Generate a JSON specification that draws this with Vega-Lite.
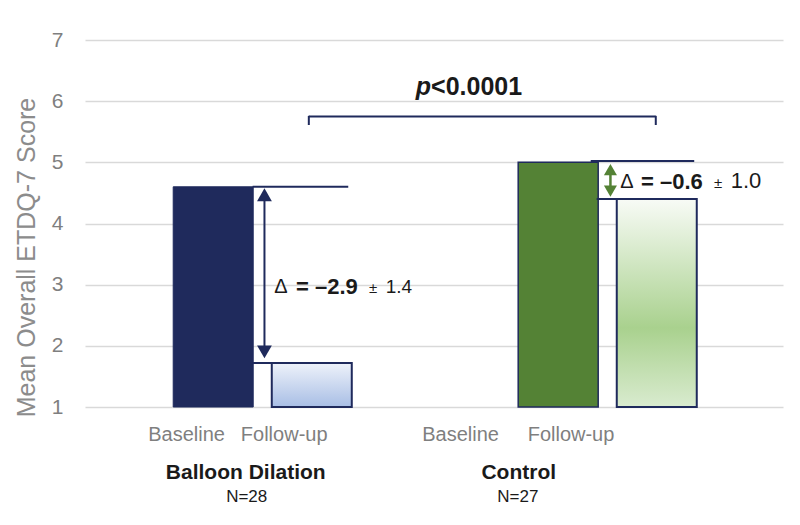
{
  "$schema": "https://vega.github.io/schema/vega-lite/v6.json",
  "width": 698,
  "height": 367,
  "autosize": {"type": "none"},
  "padding": {"left": 85, "top": 40, "right": 17, "bottom": 118},
  "background": "white",
  "config": {
    "view": {"stroke": null},
    "font": "Liberation Sans",
    "axisY": {"grid": true, "gridColor": "#d9d9d9", "gridWidth": 1.5, "domain": false, "ticks": false,
      "labelPadding": 22, "labelFontSize": 21, "labelColor": "#7f7f7f", "labelFont": "Liberation Sans",
      "titleFontSize": 25, "titleFontWeight": "normal", "titleColor": "#8c8c8c", "titleFont": "Liberation Sans",
      "titleAngle": 270, "titleAlign": "center", "titleBaseline": "middle", "titleX": -59, "titleY": 217}
  },
  "datasets": {
    "bars": [
      {"group": "Balloon Dilation", "period": "Baseline", "pos": 1, "score": 4.6},
      {"group": "Balloon Dilation", "period": "Follow-up", "pos": 2, "score": 1.72},
      {"group": "Control", "period": "Baseline", "pos": 4.5, "score": 5.0},
      {"group": "Control", "period": "Follow-up", "pos": 5.5, "score": 4.4}
    ],
    "navyRules": [
      {"x": 1.4, "x2": 2.37, "y": 4.6, "y2": 4.6},
      {"x": 1.4, "x2": 2.37, "y": 1.72, "y2": 1.72},
      {"x": 4.83, "x2": 5.88, "y": 5.02, "y2": 5.02},
      {"x": 4.89, "x2": 5.5, "y": 4.4, "y2": 4.4},
      {"x": 1.97, "x2": 5.49, "y": 5.75, "y2": 5.75},
      {"x": 1.97, "x2": 1.97, "y": 5.76, "y2": 5.61},
      {"x": 5.49, "x2": 5.49, "y": 5.76, "y2": 5.61},
      {"x": 1.52, "x2": 1.52, "y": 4.5, "y2": 1.85}
    ],
    "greenRules": [
      {"x": 5.03, "x2": 5.03, "y": 4.85, "y2": 4.55}
    ],
    "arrowHeads": [
      {"arm": "Balloon Dilation", "dir": "up", "x": 1.52, "y": 4.47},
      {"arm": "Balloon Dilation", "dir": "down", "x": 1.52, "y": 1.9},
      {"arm": "Control", "dir": "up", "x": 5.03, "y": 4.88},
      {"arm": "Control", "dir": "down", "x": 5.03, "y": 4.53}
    ],
    "periodLabels": [
      {"label": "Baseline", "x": 0.73, "y": 0.55},
      {"label": "Follow-up", "x": 1.72, "y": 0.55},
      {"label": "Baseline", "x": 3.51, "y": 0.55},
      {"label": "Follow-up", "x": 4.63, "y": 0.55}
    ],
    "groupLabels": [
      {"label": "Balloon Dilation", "x": 1.33, "y": -0.08},
      {"label": "Control", "x": 4.1, "y": -0.08}
    ],
    "nLabels": [
      {"label": "N=28", "x": 1.34, "y": -0.47},
      {"label": "N=27", "x": 4.09, "y": -0.47}
    ],
    "deltaSym": [
      {"label": "Δ", "x": 1.62, "y": 2.96},
      {"label": "Δ", "x": 5.13, "y": 4.68}
    ],
    "deltaVal": [
      {"label": "= –2.9", "x": 1.84, "y": 2.96},
      {"label": "= –0.6", "x": 5.34, "y": 4.68}
    ],
    "pm": [
      {"label": "±", "x": 2.58, "y": 2.95},
      {"label": "±", "x": 6.08, "y": 4.66}
    ],
    "sd1": [{"label": "1.4", "x": 2.75, "y": 2.96}],
    "sd2": [{"label": "1.0", "x": 6.25, "y": 4.7}],
    "pItalic": [{"label": "p", "x": 3.21, "y": 6.23}],
    "pValue": [{"label": "<0.0001", "x": 3.21, "y": 6.23}]
  },
  "layer": [
    {
      "data": {"name": "bars"},
      "transform": [{"filter": "datum.group == 'Balloon Dilation' && datum.period == 'Baseline'"}],
      "mark": {"type": "bar", "width": 80, "fill": "#1f2a5c", "stroke": "#1f2a5c", "strokeWidth": 1},
      "encoding": {
        "x": {"field": "pos", "type": "quantitative", "scale": {"domain": [-0.25, 6.73], "nice": false, "zero": false}, "axis": null},
        "y": {"field": "score", "type": "quantitative", "scale": {"domain": [1, 7], "nice": false, "zero": false},
          "axis": {"values": [1, 2, 3, 4, 5, 6, 7], "title": "Mean Overall ETDQ-7 Score"}},
        "y2": {"datum": 1}
      }
    },
    {
      "data": {"name": "bars"},
      "transform": [{"filter": "datum.group == 'Balloon Dilation' && datum.period == 'Follow-up'"}],
      "mark": {"type": "bar", "width": 80, "stroke": "#1f2a5c", "strokeWidth": 2,
        "fill": {"gradient": "linear", "x1": 0, "y1": 0, "x2": 0, "y2": 1, "stops": [{"offset": 0, "color": "#eef2fa"}, {"offset": 1, "color": "#a8bee5"}]}},
      "encoding": {
        "x": {"field": "pos", "type": "quantitative", "scale": {"domain": [-0.25, 6.73], "nice": false, "zero": false}, "axis": null},
        "y": {"field": "score", "type": "quantitative", "scale": {"domain": [1, 7], "nice": false, "zero": false},
          "axis": {"values": [1, 2, 3, 4, 5, 6, 7], "title": "Mean Overall ETDQ-7 Score"}},
        "y2": {"datum": 1}
      }
    },
    {
      "data": {"name": "bars"},
      "transform": [{"filter": "datum.group == 'Control' && datum.period == 'Baseline'"}],
      "mark": {"type": "bar", "width": 80, "fill": "#548235", "stroke": "#1f2a5c", "strokeWidth": 1.5},
      "encoding": {
        "x": {"field": "pos", "type": "quantitative", "scale": {"domain": [-0.25, 6.73], "nice": false, "zero": false}, "axis": null},
        "y": {"field": "score", "type": "quantitative", "scale": {"domain": [1, 7], "nice": false, "zero": false},
          "axis": {"values": [1, 2, 3, 4, 5, 6, 7], "title": "Mean Overall ETDQ-7 Score"}},
        "y2": {"datum": 1}
      }
    },
    {
      "data": {"name": "bars"},
      "transform": [{"filter": "datum.group == 'Control' && datum.period == 'Follow-up'"}],
      "mark": {"type": "bar", "width": 80, "stroke": "#1f2a5c", "strokeWidth": 2,
        "fill": {"gradient": "linear", "x1": 0, "y1": 0, "x2": 0, "y2": 1, "stops": [{"offset": 0, "color": "#f8fbf6"}, {"offset": 0.62, "color": "#a9d18e"}, {"offset": 1, "color": "#d9ebcf"}]}},
      "encoding": {
        "x": {"field": "pos", "type": "quantitative", "scale": {"domain": [-0.25, 6.73], "nice": false, "zero": false}, "axis": null},
        "y": {"field": "score", "type": "quantitative", "scale": {"domain": [1, 7], "nice": false, "zero": false},
          "axis": {"values": [1, 2, 3, 4, 5, 6, 7], "title": "Mean Overall ETDQ-7 Score"}},
        "y2": {"datum": 1}
      }
    },
    {
      "data": {"name": "navyRules"},
      "mark": {"type": "rule", "color": "#1f2a5c", "strokeWidth": 2},
      "encoding": {
        "x": {"field": "x", "type": "quantitative", "scale": {"domain": [-0.25, 6.73], "nice": false, "zero": false}, "axis": null},
        "x2": {"field": "x2"},
        "y": {"field": "y", "type": "quantitative", "scale": {"domain": [1, 7], "nice": false, "zero": false},
          "axis": {"values": [1, 2, 3, 4, 5, 6, 7], "title": "Mean Overall ETDQ-7 Score"}},
        "y2": {"field": "y2"}
      }
    },
    {
      "data": {"name": "greenRules"},
      "mark": {"type": "rule", "color": "#548235", "strokeWidth": 2.5},
      "encoding": {
        "x": {"field": "x", "type": "quantitative", "scale": {"domain": [-0.25, 6.73], "nice": false, "zero": false}, "axis": null},
        "x2": {"field": "x2"},
        "y": {"field": "y", "type": "quantitative", "scale": {"domain": [1, 7], "nice": false, "zero": false},
          "axis": {"values": [1, 2, 3, 4, 5, 6, 7], "title": "Mean Overall ETDQ-7 Score"}},
        "y2": {"field": "y2"}
      }
    },
    {
      "data": {"name": "arrowHeads"},
      "mark": {"type": "point", "filled": true, "opacity": 1, "strokeWidth": 0},
      "encoding": {
        "x": {"field": "x", "type": "quantitative", "scale": {"domain": [-0.25, 6.73], "nice": false, "zero": false}, "axis": null},
        "y": {"field": "y", "type": "quantitative", "scale": {"domain": [1, 7], "nice": false, "zero": false},
          "axis": {"values": [1, 2, 3, 4, 5, 6, 7], "title": "Mean Overall ETDQ-7 Score"}},
        "shape": {"field": "dir", "type": "nominal", "scale": {"domain": ["up", "down"], "range": ["triangle-up", "triangle-down"]}, "legend": null},
        "color": {"field": "arm", "type": "nominal", "scale": {"domain": ["Balloon Dilation", "Control"], "range": ["#1f2a5c", "#548235"]}, "legend": null},
        "size": {"field": "arm", "type": "nominal", "scale": {"domain": ["Balloon Dilation", "Control"], "range": [220, 170]}, "legend": null}
      }
    },
    {
      "data": {"name": "periodLabels"},
      "mark": {"type": "text", "fontSize": 20, "color": "#7f7f7f", "align": "center", "baseline": "middle"},
      "encoding": {
        "x": {"field": "x", "type": "quantitative", "scale": {"domain": [-0.25, 6.73], "nice": false, "zero": false}, "axis": null},
        "y": {"field": "y", "type": "quantitative", "scale": {"domain": [1, 7], "nice": false, "zero": false},
          "axis": {"values": [1, 2, 3, 4, 5, 6, 7], "title": "Mean Overall ETDQ-7 Score"}},
        "text": {"field": "label"}
      }
    },
    {
      "data": {"name": "groupLabels"},
      "mark": {"type": "text", "fontSize": 21, "fontWeight": "bold", "color": "#1a1a1a", "align": "center", "baseline": "middle"},
      "encoding": {
        "x": {"field": "x", "type": "quantitative", "scale": {"domain": [-0.25, 6.73], "nice": false, "zero": false}, "axis": null},
        "y": {"field": "y", "type": "quantitative", "scale": {"domain": [1, 7], "nice": false, "zero": false},
          "axis": {"values": [1, 2, 3, 4, 5, 6, 7], "title": "Mean Overall ETDQ-7 Score"}},
        "text": {"field": "label"}
      }
    },
    {
      "data": {"name": "nLabels"},
      "mark": {"type": "text", "fontSize": 17, "color": "#1a1a1a", "align": "center", "baseline": "middle"},
      "encoding": {
        "x": {"field": "x", "type": "quantitative", "scale": {"domain": [-0.25, 6.73], "nice": false, "zero": false}, "axis": null},
        "y": {"field": "y", "type": "quantitative", "scale": {"domain": [1, 7], "nice": false, "zero": false},
          "axis": {"values": [1, 2, 3, 4, 5, 6, 7], "title": "Mean Overall ETDQ-7 Score"}},
        "text": {"field": "label"}
      }
    },
    {
      "data": {"name": "deltaSym"},
      "mark": {"type": "text", "fontSize": 20, "color": "#1a1a1a", "align": "left", "baseline": "middle"},
      "encoding": {
        "x": {"field": "x", "type": "quantitative", "scale": {"domain": [-0.25, 6.73], "nice": false, "zero": false}, "axis": null},
        "y": {"field": "y", "type": "quantitative", "scale": {"domain": [1, 7], "nice": false, "zero": false},
          "axis": {"values": [1, 2, 3, 4, 5, 6, 7], "title": "Mean Overall ETDQ-7 Score"}},
        "text": {"field": "label"}
      }
    },
    {
      "data": {"name": "deltaVal"},
      "mark": {"type": "text", "fontSize": 22, "fontWeight": "bold", "color": "#1a1a1a", "align": "left", "baseline": "middle"},
      "encoding": {
        "x": {"field": "x", "type": "quantitative", "scale": {"domain": [-0.25, 6.73], "nice": false, "zero": false}, "axis": null},
        "y": {"field": "y", "type": "quantitative", "scale": {"domain": [1, 7], "nice": false, "zero": false},
          "axis": {"values": [1, 2, 3, 4, 5, 6, 7], "title": "Mean Overall ETDQ-7 Score"}},
        "text": {"field": "label"}
      }
    },
    {
      "data": {"name": "pm"},
      "mark": {"type": "text", "fontSize": 15, "color": "#1a1a1a", "align": "left", "baseline": "middle"},
      "encoding": {
        "x": {"field": "x", "type": "quantitative", "scale": {"domain": [-0.25, 6.73], "nice": false, "zero": false}, "axis": null},
        "y": {"field": "y", "type": "quantitative", "scale": {"domain": [1, 7], "nice": false, "zero": false},
          "axis": {"values": [1, 2, 3, 4, 5, 6, 7], "title": "Mean Overall ETDQ-7 Score"}},
        "text": {"field": "label"}
      }
    },
    {
      "data": {"name": "sd1"},
      "mark": {"type": "text", "fontSize": 19, "color": "#1a1a1a", "align": "left", "baseline": "middle"},
      "encoding": {
        "x": {"field": "x", "type": "quantitative", "scale": {"domain": [-0.25, 6.73], "nice": false, "zero": false}, "axis": null},
        "y": {"field": "y", "type": "quantitative", "scale": {"domain": [1, 7], "nice": false, "zero": false},
          "axis": {"values": [1, 2, 3, 4, 5, 6, 7], "title": "Mean Overall ETDQ-7 Score"}},
        "text": {"field": "label"}
      }
    },
    {
      "data": {"name": "sd2"},
      "mark": {"type": "text", "fontSize": 22, "color": "#1a1a1a", "align": "left", "baseline": "middle"},
      "encoding": {
        "x": {"field": "x", "type": "quantitative", "scale": {"domain": [-0.25, 6.73], "nice": false, "zero": false}, "axis": null},
        "y": {"field": "y", "type": "quantitative", "scale": {"domain": [1, 7], "nice": false, "zero": false},
          "axis": {"values": [1, 2, 3, 4, 5, 6, 7], "title": "Mean Overall ETDQ-7 Score"}},
        "text": {"field": "label"}
      }
    },
    {
      "data": {"name": "pItalic"},
      "mark": {"type": "text", "fontSize": 25, "fontWeight": "bold", "fontStyle": "italic", "color": "#1a1a1a", "align": "right", "baseline": "middle"},
      "encoding": {
        "x": {"field": "x", "type": "quantitative", "scale": {"domain": [-0.25, 6.73], "nice": false, "zero": false}, "axis": null},
        "y": {"field": "y", "type": "quantitative", "scale": {"domain": [1, 7], "nice": false, "zero": false},
          "axis": {"values": [1, 2, 3, 4, 5, 6, 7], "title": "Mean Overall ETDQ-7 Score"}},
        "text": {"field": "label"}
      }
    },
    {
      "data": {"name": "pValue"},
      "mark": {"type": "text", "fontSize": 25, "fontWeight": "bold", "color": "#1a1a1a", "align": "left", "baseline": "middle"},
      "encoding": {
        "x": {"field": "x", "type": "quantitative", "scale": {"domain": [-0.25, 6.73], "nice": false, "zero": false}, "axis": null},
        "y": {"field": "y", "type": "quantitative", "scale": {"domain": [1, 7], "nice": false, "zero": false},
          "axis": {"values": [1, 2, 3, 4, 5, 6, 7], "title": "Mean Overall ETDQ-7 Score"}},
        "text": {"field": "label"}
      }
    }
  ]
}
